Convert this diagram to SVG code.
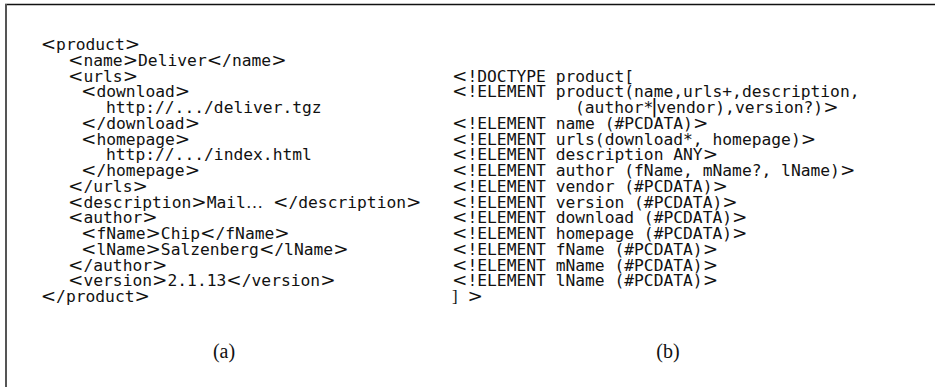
<svg xmlns="http://www.w3.org/2000/svg" width="935" height="387" viewBox="0 0 935 387">
<style>
text { font-family: "DejaVu Sans Mono", "Liberation Mono", monospace; font-size: 16.3px; fill: #111; white-space: pre; }
.m { font-family: "DejaVu Sans", sans-serif; font-size: 18.4px; }
.r { font-family: "Liberation Serif", serif; font-size: 17px; }
.bar { font-family: "DejaVu Sans", sans-serif; font-size: 20px; }
.cap { font-family: "Liberation Serif", serif; font-size: 20px; text-anchor: middle; }
</style>
<rect width="935" height="387" fill="#fff"/>
<g id="frame">
<line x1="5" y1="4.5" x2="935" y2="4.5" stroke="#111" stroke-width="1.3"/>
<line x1="6" y1="4" x2="6" y2="387" stroke="#555" stroke-width="2"/>
</g>
<g id="xml-document">
<text x="40.7" y="50"><tspan class="m">&lt;</tspan>product<tspan class="m">&gt;</tspan></text>
<text x="68" y="65.75"><tspan class="m">&lt;</tspan>name<tspan class="m">&gt;</tspan>Deliver<tspan class="m">&lt;</tspan>/name<tspan class="m">&gt;</tspan></text>
<text x="68" y="81.5"><tspan class="m">&lt;</tspan>urls<tspan class="m">&gt;</tspan></text>
<text x="81" y="97.25"><tspan class="m">&lt;</tspan>download<tspan class="m">&gt;</tspan></text>
<text x="106" y="113">http://.../deliver.tgz</text>
<text x="81" y="128.75"><tspan class="m">&lt;</tspan>/download<tspan class="m">&gt;</tspan></text>
<text x="81" y="144.5"><tspan class="m">&lt;</tspan>homepage<tspan class="m">&gt;</tspan></text>
<text x="106" y="160.25">http://.../index.html</text>
<text x="81" y="176"><tspan class="m">&lt;</tspan>/homepage<tspan class="m">&gt;</tspan></text>
<text x="68" y="191.75"><tspan class="m">&lt;</tspan>/urls<tspan class="m">&gt;</tspan></text>
<text x="68" y="207.5"><tspan class="m">&lt;</tspan>description<tspan class="m">&gt;</tspan>Mail<tspan class="r">…</tspan><tspan x="273" class="m">&lt;</tspan>/description<tspan class="m">&gt;</tspan></text>
<text x="68" y="223.25"><tspan class="m">&lt;</tspan>author<tspan class="m">&gt;</tspan></text>
<text x="81" y="239"><tspan class="m">&lt;</tspan>fName<tspan class="m">&gt;</tspan>Chip<tspan class="m">&lt;</tspan>/fName<tspan class="m">&gt;</tspan></text>
<text x="81" y="254.75"><tspan class="m">&lt;</tspan>lName<tspan class="m">&gt;</tspan>Salzenberg<tspan class="m">&lt;</tspan>/lName<tspan class="m">&gt;</tspan></text>
<text x="68" y="270.5"><tspan class="m">&lt;</tspan>/author<tspan class="m">&gt;</tspan></text>
<text x="68" y="286.25"><tspan class="m">&lt;</tspan>version<tspan class="m">&gt;</tspan>2.1.13<tspan class="m">&lt;</tspan>/version<tspan class="m">&gt;</tspan></text>
<text x="40.7" y="302"><tspan class="m">&lt;</tspan>/product<tspan class="m">&gt;</tspan></text>
<text class="cap" x="224" y="358">(a)</text>
</g>
<g id="dtd">
<text x="452" y="81.5"><tspan class="m">&lt;</tspan>!DOCTYPE product[</text>
<text x="452" y="97.25"><tspan class="m">&lt;</tspan>!ELEMENT product(name,urls+,description,</text>
<text x="575" y="113">(author*<tspan x="651" class="bar">|</tspan><tspan x="656.5">vendor),version?)</tspan><tspan class="m">&gt;</tspan></text>
<text x="452" y="128.75"><tspan class="m">&lt;</tspan>!ELEMENT name (#PCDATA)<tspan class="m">&gt;</tspan></text>
<text x="452" y="144.5"><tspan class="m">&lt;</tspan>!ELEMENT urls(download*, homepage)<tspan class="m">&gt;</tspan></text>
<text x="452" y="160.25"><tspan class="m">&lt;</tspan>!ELEMENT description ANY<tspan class="m">&gt;</tspan></text>
<text x="452" y="176"><tspan class="m">&lt;</tspan>!ELEMENT author (fName, mName?, lName)<tspan class="m">&gt;</tspan></text>
<text x="452" y="191.75"><tspan class="m">&lt;</tspan>!ELEMENT vendor (#PCDATA)<tspan class="m">&gt;</tspan></text>
<text x="452" y="207.5"><tspan class="m">&lt;</tspan>!ELEMENT version (#PCDATA)<tspan class="m">&gt;</tspan></text>
<text x="452" y="223.25"><tspan class="m">&lt;</tspan>!ELEMENT download (#PCDATA)<tspan class="m">&gt;</tspan></text>
<text x="452" y="239"><tspan class="m">&lt;</tspan>!ELEMENT homepage (#PCDATA)<tspan class="m">&gt;</tspan></text>
<text x="452" y="254.75"><tspan class="m">&lt;</tspan>!ELEMENT fName (#PCDATA)<tspan class="m">&gt;</tspan></text>
<text x="452" y="270.5"><tspan class="m">&lt;</tspan>!ELEMENT mName (#PCDATA)<tspan class="m">&gt;</tspan></text>
<text x="452" y="286.25"><tspan class="m">&lt;</tspan>!ELEMENT lName (#PCDATA)<tspan class="m">&gt;</tspan></text>
<text x="452" y="302"><tspan class="r">]</tspan> <tspan class="m">&gt;</tspan></text>
<text class="cap" x="668" y="358">(b)</text>
</g>
</svg>
